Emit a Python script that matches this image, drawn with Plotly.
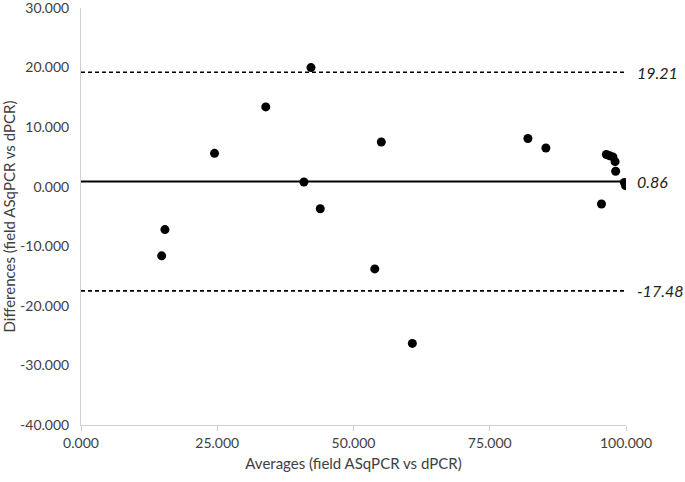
import plotly.graph_objects as go

# Bland-Altman data
averages = [14.8, 15.4, 24.5, 33.9, 42.2, 40.9, 43.9, 53.9, 55.1, 60.8,
            82.0, 85.3, 96.4, 97.0, 97.6, 98.0, 98.1, 99.7, 99.9, 95.5]
differences = [-11.6, -7.2, 5.6, 13.4, 20.0, 0.8, -3.7, -13.8, 7.5, -26.3,
               8.1, 6.5, 5.4, 5.2, 5.0, 4.2, 2.6, 0.7, 0.2, -2.9]

mean_diff = 0.86
upper_loa = 19.21
lower_loa = -17.48
x_span = [0, 100]

x_ticks = [0, 25, 50, 75, 100]
x_ticktext = ["0.000", "25.000", "50.000", "75.000", "100.000"]
y_ticks = [30, 20, 10, 0, -10, -20, -30, -40]
y_ticktext = ["30.000", "20.000", "10.000", "0.000", "-10.000", "-20.000", "-30.000", "-40.000"]

fig = go.Figure()

# limits of agreement and mean line
for val, dash, w in [(upper_loa, "4px,3px", 1.6), (mean_diff, "solid", 2), (lower_loa, "4px,3px", 1.6)]:
    fig.add_trace(go.Scatter(
        x=x_span, y=[val, val], mode="lines",
        line=dict(color="black", width=w, dash=dash),
        hoverinfo="skip", showlegend=False
    ))
    fig.add_annotation(
        x=1, xref="paper", y=val, yref="y",
        text=f"<i>{val:.2f}</i>", showarrow=False,
        xanchor="left", xshift=9,
        font=dict(family="Lato, sans-serif", size=16, color="#222222")
    )

fig.add_trace(go.Scatter(
    x=averages, y=differences, mode="markers",
    marker=dict(color="black", size=9),
    showlegend=False
))

fig.update_layout(
    width=685, height=482,
    margin=dict(l=81, r=59, t=8, b=57, autoexpand=False),
    plot_bgcolor="white", paper_bgcolor="white",
    font=dict(family="Lato, sans-serif", size=14, color="#404040"),
    xaxis=dict(
        range=[0, 100], tickvals=x_ticks, ticktext=x_ticktext,
        showgrid=False, zeroline=False,
        showline=True, linecolor="#d0d0d0", linewidth=1,
        ticks="outside", ticklen=5, tickcolor="#d0d0d0",
        ticklabeloverflow="allow",
        title=dict(text="Averages (field ASqPCR vs dPCR)", standoff=8,
                   font=dict(size=15, color="#404040"))
    ),
    yaxis=dict(
        range=[-40, 30], tickvals=y_ticks, ticktext=y_ticktext,
        showgrid=False, zeroline=False,
        showline=True, linecolor="#d0d0d0", linewidth=1,
        ticks="", ticklabelstandoff=8, ticklabeloverflow="allow",
        title=dict(text="Differences (field ASqPCR vs dPCR)", standoff=6,
                   font=dict(size=15, color="#404040"))
    )
)

fig.write_html("out.html", config={"displayModeBar": False},
               post_script="document.body.style.margin='0';")
